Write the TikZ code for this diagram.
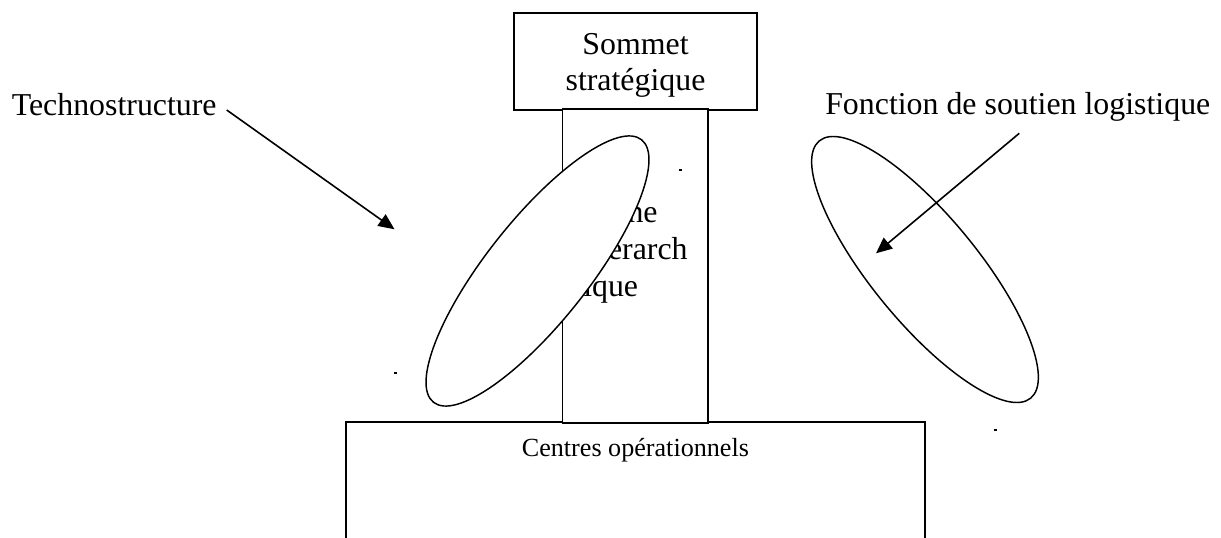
\documentclass[tikz,border=0pt]{standalone}
\usepackage{fontspec}
\setmainfont{Liberation Serif}
\usetikzlibrary{arrows.meta}
\begin{document}
\begin{tikzpicture}[x=0.75pt,y=-0.75pt,
  boxline/.style={draw=black, line width=1.3pt},
  ell/.style={draw=black, fill=white, line width=1.1pt},
  arr/.style={draw=black, line width=1.2pt, -{Triangle[length=12pt,width=10.5pt]}},
  big/.style={inner sep=0pt, font=\fontsize{23.9}{27.5}\selectfont},
  small/.style={inner sep=0pt, font=\fontsize{19.6}{23}\selectfont}]
\useasboundingbox (0,0) rectangle (1221,538);
% operational centre (bottom, open at the bottom edge)
\draw[boxline] (345.7,540) -- (345.7,422) -- (925,422) -- (925,540);
\node[small, anchor=base] (centres) at (635.4,456.7) {Centres opérationnels};
% strategic apex
\draw[boxline, fill=white] (514,13) rectangle (757,110);
\node[big, anchor=base] (som1) at (635.5,55) {Sommet};
\node[big, anchor=base] (som2) at (635.5,90.7) {stratégique};
% middle line
\draw[boxline, fill=white] (562.5,109) rectangle (708,423);
\node[big, anchor=base west] (lh1) at (583,223) {Ligne};
\node[big, anchor=base west] (lh2) at (583,260) {hierarch};
\node[big, anchor=base west] (lh3) at (583,296.7) {ique};
% technostructure ellipse
\draw[ell, rotate around={51.6:(537.5,271)}] (537.5,271) ellipse [x radius=167.5, y radius=51];
% support staff ellipse
\draw[ell, rotate around={-50.6:(925,269.5)}] (925,269.5) ellipse [x radius=166.5, y radius=53];
% labels
\node[big, anchor=base west] (techno) at (11.5,116) {Technostructure};
\node[big, anchor=base west] (fonction) at (825,115) {Fonction de soutien logistique};
% arrows
\coordinate (ta) at (226.7,110);
\coordinate (tb) at (394.5,229.3);
\draw[arr] (ta) -- (tb);
\coordinate (fa) at (1019.3,133.3);
\coordinate (fb) at (876,253.3);
\draw[arr] (fa) -- (fb);
% stray dots
\fill (394,371.5) rectangle (397,373.5);
\fill (679,169) rectangle (682,171);
\fill (994,429) rectangle (997,431);
\end{tikzpicture}
\end{document}
